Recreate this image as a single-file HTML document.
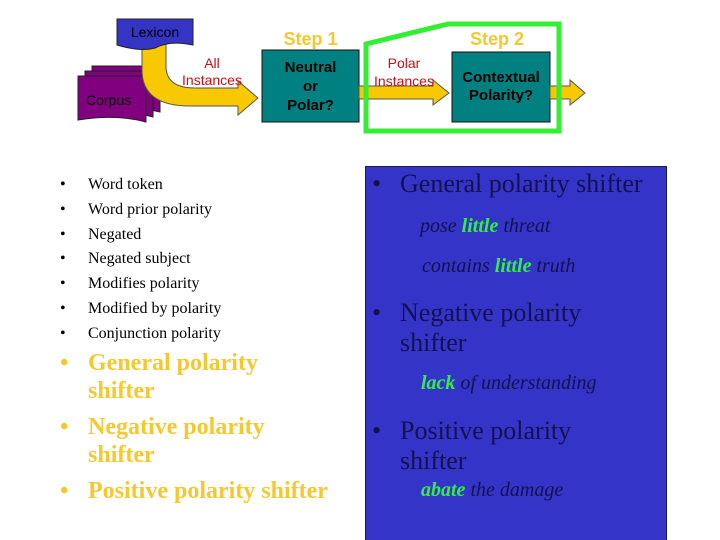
<!DOCTYPE html>
<html><head><style>
body{margin:0;width:720px;height:540px;background:#fff;position:relative;overflow:hidden;font-family:"Liberation Sans",sans-serif}
.a{position:absolute;white-space:nowrap}
.t{font-family:"Liberation Serif",serif}
.c{text-align:center}
ul{margin:0;padding:0;list-style:none}
.g{color:#33ee44;font-weight:bold}
</style></head><body>
<svg class="a" style="left:0;top:0" width="720" height="540">
  <!-- corpus pages -->
  <path d="M92,66 H160 V112 Q130,104 92,110 Z" fill="#800080" stroke="#222" stroke-width="1"/>
  <path d="M85,71 H153 V117 Q123,109 85,115 Z" fill="#800080" stroke="#222" stroke-width="1"/>
  <path d="M78,76 H146 V122 Q116,114 78,120 Z" fill="#800080" stroke="#222" stroke-width="1"/>
  <!-- yellow curved arrow -->
  <path d="M142,44 L142,70 Q142,106 190,106 L238,106 L238,115 L258,98 L238,81 L238,88 L195,88 Q166,88 166,66 L166,44 Z" fill="#f8c800" stroke="#555" stroke-width="1"/>
  <!-- lexicon -->
  <path d="M117,19 H193 V45 Q170,40 155,48 Q140,52 117,45 Z" fill="#3535c5" stroke="#222" stroke-width="1"/>
  <!-- teal box 1 -->
  <rect x="262" y="50" width="97" height="72" fill="#008080" stroke="#111"/>
  <!-- arrow step1->2 -->
  <path d="M359,86 H433 V80 L449,93 L433,105 V99 H359 Z" fill="#f8c800" stroke="#555"/>
  <rect x="452" y="52" width="98" height="70" fill="#008080" stroke="#111"/>
  <path d="M550,86 H570 V80 L585,93 L570,105 V99 H550 Z" fill="#f8c800" stroke="#555"/>
  <!-- green outline -->
  <path d="M366,44 L448,24 L559,24 L559,131 L366,131 Z" fill="none" stroke="#33ee33" stroke-width="5"/>
  <!-- blue panel -->
  <rect x="365.5" y="166.5" width="301" height="380" fill="#3434c8" stroke="#1a1a50"/>
</svg>
<div class="a" style="left:117px;top:24px;width:76px;font-size:14px" class="c"><div style="text-align:center">Lexicon</div></div>
<div class="a" style="left:86px;top:92px;font-size:14px">Corpus</div>
<div class="a" style="left:170px;top:55px;width:84px;font-size:14px;color:#c81010;text-align:center;line-height:17px">All<br>Instances</div>
<div class="a" style="left:262px;top:29px;width:97px;font-size:18px;font-weight:bold;color:#f5c830;text-align:center">Step 1</div>
<div class="a" style="left:262px;top:58px;width:97px;font-size:15px;font-weight:bold;text-align:center;line-height:19px">Neutral<br>or<br>Polar?</div>
<div class="a" style="left:448px;top:29px;width:98px;font-size:18px;font-weight:bold;color:#f5c830;text-align:center">Step 2</div>
<div class="a" style="left:362px;top:54px;width:84px;font-size:14px;color:#c81010;text-align:center;line-height:18px">Polar<br>Instances</div>
<div class="a" style="left:452px;top:69px;width:98px;font-size:15px;font-weight:bold;text-align:center;line-height:18px">Contextual<br>Polarity?</div>

<div class="a t" style="left:60px;top:173px;font-size:16px;line-height:24.8px">
<div>•&nbsp;&nbsp;&nbsp;&nbsp;&nbsp;&nbsp;Word token</div>
</div>
<div class="a t" style="left:60px;top:173px;font-size:16px;line-height:24.8px">
<div style="position:relative">
<span style="position:absolute;left:0">•<br>•<br>•<br>•<br>•<br>•<br>•</span>
</div></div>
<div class="a t" style="left:88px;top:173px;font-size:16px;line-height:24.8px;background:#fff">Word token<br>Word prior polarity<br>Negated<br>Negated subject<br>Modifies polarity<br>Modified by polarity<br>Conjunction polarity</div>

<div class="a t" style="left:60px;top:349px;font-size:24px;font-weight:bold;color:#f5c830;line-height:28px">
<div style="position:relative;padding-left:28px"><span style="position:absolute;left:0">•</span>General polarity<br>shifter</div>
<div style="position:relative;padding-left:28px;margin-top:8px"><span style="position:absolute;left:0">•</span>Negative polarity<br>shifter</div>
<div style="position:relative;padding-left:28px;margin-top:8px"><span style="position:absolute;left:0">•</span>Positive polarity shifter</div>
</div>

<div class="a t" style="left:372px;top:169px;font-size:26px;color:#121250;line-height:30px">
<div style="position:relative;padding-left:28px"><span style="position:absolute;left:0">•</span>General polarity shifter</div>
</div>
<div class="a t" style="left:420px;top:215px;font-size:20px;font-style:italic;color:#121250">pose <span class="g">little</span> threat</div>
<div class="a t" style="left:422px;top:255px;font-size:20px;font-style:italic;color:#121250">contains <span class="g">little</span> truth</div>
<div class="a t" style="left:372px;top:298px;font-size:26px;color:#121250;line-height:30px">
<div style="position:relative;padding-left:28px"><span style="position:absolute;left:0">•</span>Negative polarity<br>shifter</div>
</div>
<div class="a t" style="left:421px;top:372px;font-size:20px;font-style:italic;color:#121250"><span class="g">lack</span> of understanding</div>
<div class="a t" style="left:372px;top:416px;font-size:26px;color:#121250;line-height:30px">
<div style="position:relative;padding-left:28px"><span style="position:absolute;left:0">•</span>Positive polarity<br>shifter</div>
</div>
<div class="a t" style="left:421px;top:479px;font-size:20px;font-style:italic;color:#121250"><span class="g">abate</span> the damage</div>
</body></html>
